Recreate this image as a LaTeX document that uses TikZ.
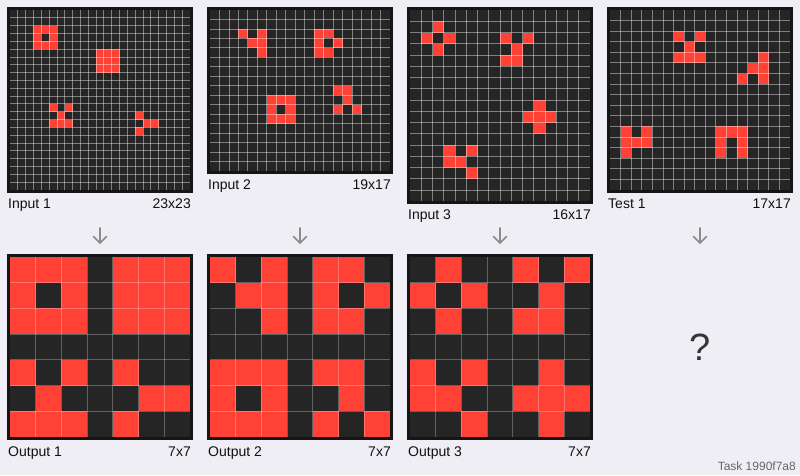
\documentclass[tikz,border=0pt]{standalone}
\usepackage{fontspec}
\setmainfont{Liberation Sans}
\usetikzlibrary{calc}
\definecolor{pagebg}{HTML}{EEEEF4}
\definecolor{arcbg}{HTML}{252525}
\definecolor{arcred}{HTML}{FF4136}
\definecolor{framec}{HTML}{151515}
\definecolor{arrowc}{HTML}{8A8A8A}
\definecolor{taskc}{HTML}{666666}
\definecolor{txtc}{HTML}{111111}
\tikzset{
  inlines/.style={white, opacity=0.42, line width=0.9},
  outlines/.style={white, opacity=0.28, line width=0.9},
  gridframe/.style={draw=framec, line width=3},
  lbl/.style={inner sep=0, font=\fontsize{14}{16}\selectfont, text=txtc},
  downarrow/.style={arrowc, line width=1.6, line cap=round, line join=round},
}
\newcommand\arcgrid[7]{%
  \pgfmathsetmacro\agw{#3*#5}%
  \pgfmathsetmacro\agh{#4*#5}%
  \fill[arcbg] (#1,#2) rectangle ++(\agw,\agh);
  \foreach \cx/\cy in {#6} {\fill[arcred] ({#1+\cx*#5},{#2+\cy*#5}) rectangle ++(#5,#5);}
  \pgfmathtruncatemacro\agnc{#3-1}%
  \pgfmathtruncatemacro\agnr{#4-1}%
  \foreach \i in {1,...,\agnc} {\draw[#7] ({#1+\i*#5},#2) -- ++(0,\agh);}
  \foreach \j in {1,...,\agnr} {\draw[#7] (#1,{#2+\j*#5}) -- ++(\agw,0);}
  \draw[gridframe] ({#1-1.5},{#2-1.5}) rectangle ++({\agw+3},{\agh+3});
}
\newcommand\downarr[2]{%
  \coordinate (#1s) at (#2,228);
  \coordinate (#1e) at (#2,243);
  \draw[downarrow] (#1s) -- (#1e);
  \draw[downarrow] ($(#1e)+(-6.5,-6.5)$) -- (#1e) -- ($(#1e)+(6.5,-6.5)$);
}
\begin{document}
\begin{tikzpicture}[x=1pt,y=-1pt]
\useasboundingbox (0,0) rectangle (800,475);
\fill[pagebg] (0,0) rectangle (800,475);

% Input 1 (23x23)
\arcgrid{10}{10}{23}{23}{7.826087}{3/2,4/2,5/2,3/3,5/3,3/4,4/4,5/4,
 11/5,12/5,13/5,11/6,12/6,13/6,11/7,12/7,13/7,
 5/12,7/12,6/13,5/14,6/14,7/14,
 16/13,17/14,18/14,16/15}{inlines}
\node[lbl, anchor=base west] (in1l) at (8,208) {Input 1};
\node[lbl, anchor=base east] (in1s) at (191,208) {23x23};

% Input 2 (19x17)
\arcgrid{210}{10}{19}{17}{9.473684}{3/2,5/2,4/3,5/3,5/4,
 11/2,12/2,11/3,13/3,11/4,12/4,
 6/9,7/9,8/9,6/10,8/10,6/11,7/11,8/11,
 13/8,14/8,14/9,13/10,15/10}{inlines}
\node[lbl, anchor=base west] (in2l) at (208,189) {Input 2};
\node[lbl, anchor=base east] (in2s) at (391,189) {19x17};

% Input 3 (16x17)
\arcgrid{410}{10}{16}{17}{11.25}{2/1,1/2,3/2,2/3,
 8/2,10/2,9/3,8/4,9/4,
 11/8,10/9,11/9,12/9,11/10,
 3/12,5/12,3/13,4/13,5/14}{inlines}
\node[lbl, anchor=base west] (in3l) at (408,219) {Input 3};
\node[lbl, anchor=base east] (in3s) at (591,219) {16x17};

% Test 1 (17x17)
\arcgrid{610}{10}{17}{17}{10.588235}{6/2,8/2,7/3,6/4,7/4,8/4,
 14/4,13/5,14/5,12/6,14/6,
 1/11,3/11,1/12,2/12,3/12,1/13,
 10/11,11/11,12/11,10/12,12/12,10/13,12/13}{inlines}
\node[lbl, anchor=base west] (t1l) at (608,208) {Test 1};
\node[lbl, anchor=base east] (t1s) at (791,208) {17x17};

% arrows
\downarr{a1}{100}
\downarr{a2}{300}
\downarr{a3}{500}
\downarr{a4}{700}

% Output 1
\arcgrid{10}{257}{7}{7}{25.714286}{0/0,1/0,2/0,4/0,5/0,6/0,
 0/1,2/1,4/1,5/1,6/1,
 0/2,1/2,2/2,4/2,5/2,6/2,
 0/4,2/4,4/4,
 1/5,5/5,6/5,
 0/6,1/6,2/6,4/6}{outlines}
\node[lbl, anchor=base west] (o1l) at (8,456) {Output 1};
\node[lbl, anchor=base east] (o1s) at (191,456) {7x7};

% Output 2
\arcgrid{210}{257}{7}{7}{25.714286}{0/0,2/0,4/0,5/0,
 1/1,2/1,4/1,6/1,
 2/2,4/2,5/2,
 0/4,1/4,2/4,4/4,5/4,
 0/5,2/5,5/5,
 0/6,1/6,2/6,4/6,6/6}{outlines}
\node[lbl, anchor=base west] (o2l) at (208,456) {Output 2};
\node[lbl, anchor=base east] (o2s) at (391,456) {7x7};

% Output 3
\arcgrid{410}{257}{7}{7}{25.714286}{1/0,4/0,6/0,
 0/1,2/1,5/1,
 1/2,4/2,5/2,
 0/4,2/4,5/4,
 0/5,1/5,4/5,5/5,6/5,
 2/6,5/6}{outlines}
\node[lbl, anchor=base west] (o3l) at (408,456) {Output 3};
\node[lbl, anchor=base east] (o3s) at (591,456) {7x7};

% question mark
\node[inner sep=0, font=\fontsize{38}{40}\selectfont, text=txtc!85!white] (qm) at (700,347) {?};

% task label
\node[inner sep=0, anchor=base east, font=\fontsize{12}{14}\selectfont, text=taskc] (task) at (796,470.5) {Task 1990f7a8};
\end{tikzpicture}
\end{document}
